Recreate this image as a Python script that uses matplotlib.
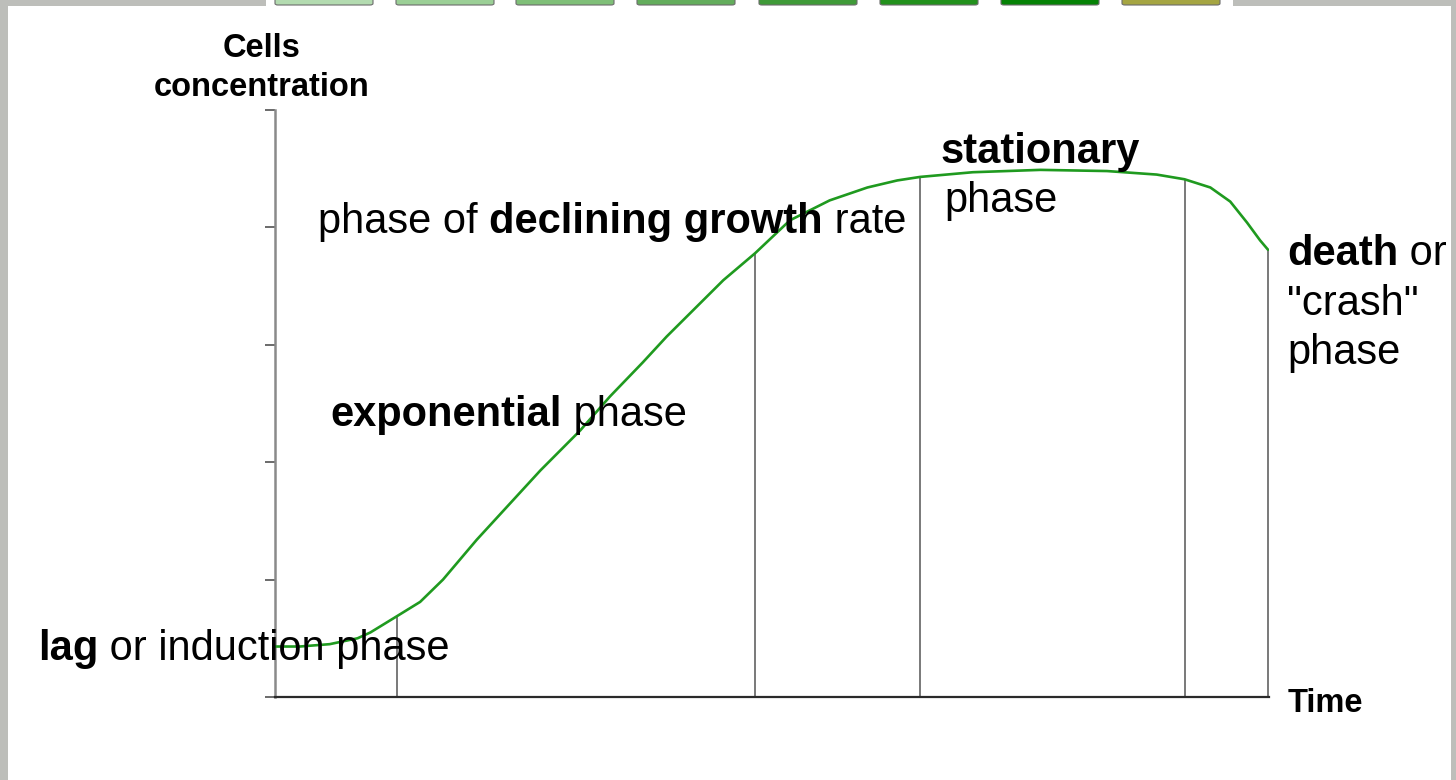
import numpy as np
import matplotlib
matplotlib.use("Agg")
import matplotlib.pyplot as plt
from matplotlib import font_manager
from matplotlib.patches import Rectangle, FancyBboxPatch

# Growth curve (arbitrary units): time vs. cell concentration
time = [0.0, 2.5, 5.5, 8.3, 9.6, 12.3, 14.6, 16.9, 20.3, 26.7, 30.7,
        33.7, 37.0, 39.4, 45.1, 48.3, 51.8, 55.8, 59.6, 62.6, 64.9, 70.2,
        77.0, 83.7, 88.7, 91.5, 94.1, 96.1, 97.8, 99.1, 99.9]
concentration = [0.43, 0.43, 0.45, 0.50, 0.55, 0.69, 0.81, 1.00, 1.34,
                 1.93, 2.27, 2.56, 2.85, 3.07, 3.55, 3.78, 4.06, 4.23, 4.34,
                 4.40, 4.43, 4.47, 4.49, 4.48, 4.45, 4.41, 4.34, 4.22,
                 4.04, 3.89, 3.81]

# Phase boundaries along the time axis
boundaries = [12.3, 48.3, 64.9, 91.5, 99.9]
y_ticks = [0, 1, 2, 3, 4, 5]

W, H = 1456, 780
fig = plt.figure(figsize=(W / 100, H / 100), dpi=100, facecolor="white")

names = {f.name for f in font_manager.fontManager.ttflist}
if "Liberation Sans Narrow" in names:
    FAM = ["Liberation Sans Narrow", "DejaVu Sans"]
    big, small = 36.5, 28.5
else:
    FAM = ["Liberation Sans", "DejaVu Sans"]
    big, small = 30, 23.5


def fx(x):
    return x / W


def fy(y):
    return 1 - y / H


# Window frame and tab strip along the top
frame = "#bdbeba"
fig.patches.append(Rectangle((0, 0), fx(8), 1, transform=fig.transFigure,
                             facecolor=frame, edgecolor="none", zorder=0))
fig.patches.append(Rectangle((fx(1451), 0), fx(6), 1, transform=fig.transFigure,
                             facecolor=frame, edgecolor="none", zorder=0))
fig.patches.append(Rectangle((0, fy(6)), fx(266), fy(0) - fy(6),
                             transform=fig.transFigure, facecolor=frame,
                             edgecolor="none", zorder=0))
fig.patches.append(Rectangle((fx(1233), fy(6)), fx(W - 1233), fy(0) - fy(6),
                             transform=fig.transFigure, facecolor=frame,
                             edgecolor="none", zorder=0))
tab_colors = ["#b3dbb0", "#9bcf96", "#7fbf78", "#63ad5c", "#3f9a38",
              "#22911c", "#058205", "#a5a542"]
tab_left = [273, 394, 514, 635, 757, 878, 999, 1120]
for left, c in zip(tab_left, tab_colors):
    fig.patches.append(FancyBboxPatch((fx(left + 2), fy(5)), fx(98), fy(-6) - fy(5),
                                      boxstyle="round,pad=0,rounding_size=0.002",
                                      transform=fig.transFigure, facecolor=c,
                                      edgecolor="#6c6c6c", linewidth=0.8, zorder=1))

# Plot area
ax = fig.add_axes([fx(275), fy(697), fx(1269) - fx(275), fy(110) - fy(697)])
ax.set_facecolor("none")
ax.set_xlim(0, 100)
ax.set_ylim(0, 5)
for s in ("top", "right"):
    ax.spines[s].set_visible(False)
ax.spines["left"].set_color("#8a8a8a")
ax.spines["left"].set_linewidth(1.8)
ax.spines["bottom"].set_color("#2a2a2a")
ax.spines["bottom"].set_linewidth(1.6)
ax.set_xticks([])
ax.set_yticks(y_ticks)
ax.set_yticklabels([])
ax.tick_params(axis="y", direction="out", length=7.2, width=1.4, color="#6a6a6a")

ax.plot(time, concentration, color="#1f9a1f", linewidth=1.9, zorder=3,
        solid_joinstyle="round", solid_capstyle="round")
tops = np.interp(boundaries, time, concentration)
ax.vlines(boundaries, 0, tops, color="#555555", linewidth=1.1, zorder=2)

# Axis titles
fig.text(fx(262), fy(57), "Cells", ha="center", va="baseline",
         fontsize=small, fontweight="bold", family=FAM)
fig.text(fx(262), fy(96), "concentration", ha="center", va="baseline",
         fontsize=small, fontweight="bold", family=FAM)
fig.text(fx(1288), fy(712), "Time", ha="left", va="baseline",
         fontsize=small, fontweight="bold", family=FAM)


def label(x, y, parts):
    """Draw a line of text made of (string, bold) pieces."""
    prev = None
    for txt, bold in parts:
        w = "bold" if bold else "normal"
        if prev is None:
            prev = fig.text(fx(x), fy(y), txt, ha="left", va="baseline",
                            fontsize=big, fontweight=w, family=FAM, zorder=5)
        else:
            prev = ax.annotate(txt, xy=(1, 0), xycoords=prev, ha="left",
                               va="bottom", fontsize=big, fontweight=w,
                               family=FAM, zorder=5, annotation_clip=False)


label(38, 660, [("lag", True), (" or induction phase", False)])
label(330, 426, [("exponential", True), (" phase", False)])
label(318, 233, [("phase of ", False), ("declining growth", True), (" rate", False)])
label(940, 163, [("stationary", True)])
label(944, 212, [("phase", False)])
label(1287, 265, [("death", True), (" or", False)])
label(1287, 315, [('"crash"', False)])
label(1287, 364, [("phase", False)])

fig.savefig("out.png", dpi=100, facecolor="white")
